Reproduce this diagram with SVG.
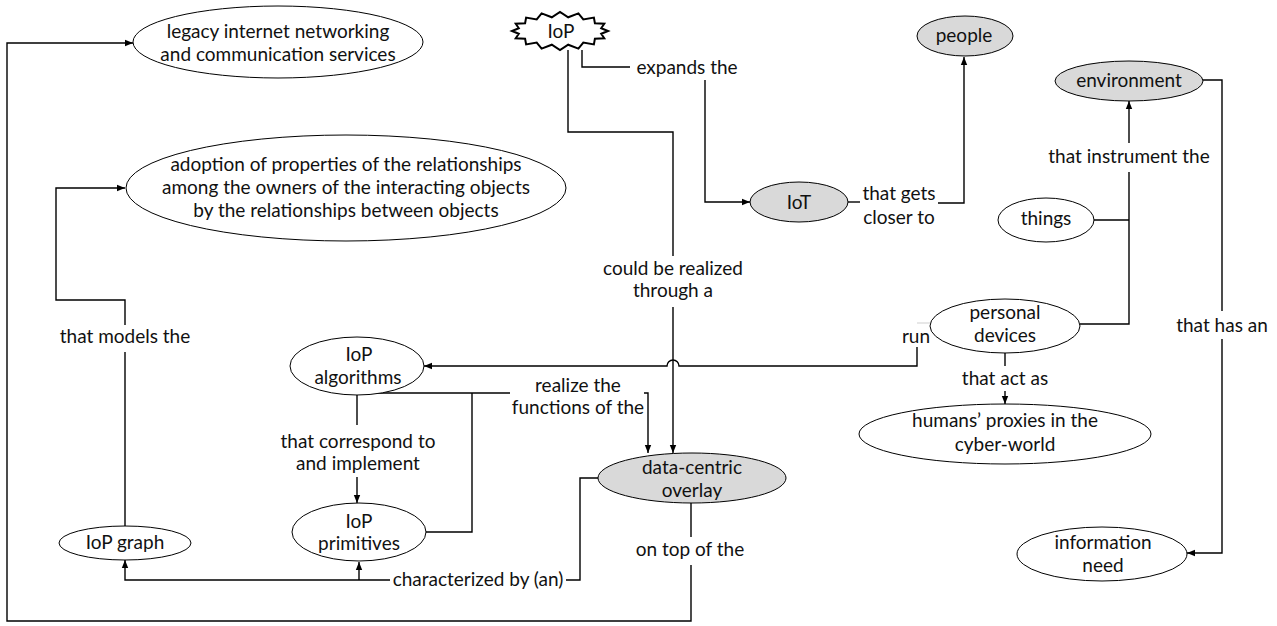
<svg xmlns="http://www.w3.org/2000/svg" width="1277" height="626" viewBox="0 0 1277 626">
<defs>
<marker id="arr" viewBox="0 0 10 10" refX="10" refY="5" markerWidth="8" markerHeight="8" markerUnits="userSpaceOnUse" orient="auto"><path d="M0,1 L10,5 L0,9 z" fill="#000"/></marker>
</defs>
<style>
text{font-family:Lato,"Liberation Sans",sans-serif;font-size:19px;fill:#111;text-anchor:middle}
.n{fill:#fff;stroke:#000;stroke-width:1}
.g{fill:#d9d9d9;stroke:#000;stroke-width:1}
.c{fill:none;stroke:#000;stroke-width:1.4}
.a{marker-end:url(#arr)}
.faint{fill:none;stroke:#cfcfcf;stroke-width:1}
</style>
<rect width="1277" height="626" fill="#fff"/>
<g id="connectors">
<path class="c" d="M582,50 V67 H630"/>
<path class="c a" d="M705,80 V202 H750"/>
<text x="687" y="74">expands the</text>
<path class="c" d="M568,50 V132 H673 V256"/>
<path class="c a" d="M673,307 V453"/>
<text x="673" y="275">could be realized</text>
<text x="673" y="297">through a</text>
<path class="c" d="M848,202 H860"/>
<path class="c a" d="M938,203 H964 V57"/>
<text x="899" y="200">that gets</text>
<text x="899" y="224">closer to</text>
<path class="c" d="M1093,220 H1129"/>
<path class="c" d="M1080,324 H1129 V172"/>
<path class="c a" d="M1129,143 V101"/>
<text x="1129" y="163">that instrument the</text>
<path class="c" d="M1203,80 H1222 V311"/>
<path class="c a" d="M1222,339 V553 H1187"/>
<text x="1222" y="332">that has an</text>
<path class="faint" d="M917,323 H930"/>
<path class="c a" d="M917,347 V366 H679 A6,6 0 0 0 667,366 H424"/>
<text x="916" y="343">run</text>
<path class="c" d="M1005,353 V366"/>
<path class="c a" d="M1005,391 V404"/>
<text x="1005" y="385">that act as</text>
<path class="c" d="M357,395 V425"/>
<path class="c a" d="M357,477 V503"/>
<text x="358" y="448">that correspond to</text>
<text x="358" y="470">and implement</text>
<path class="c" d="M378,393 H510"/>
<path class="c" d="M426,532 H472 V393"/>
<path class="c a" d="M644,393 H648 V453"/>
<text x="578" y="392">realize the</text>
<text x="578" y="414">functions of the</text>
<path class="c" d="M598,478 H580 V580 H566"/>
<path class="c a" d="M390,580 H125 V560"/>
<path class="c a" d="M359,580 V562"/>
<text x="478" y="586">characterized by (an)</text>
<path class="c" d="M691,503 V537"/>
<path class="c a" d="M691,565 V621 H7 V43 H133"/>
<text x="690" y="556">on top of the</text>
<path class="c" d="M125,527 V352"/>
<path class="c a" d="M125,325 V300 H56 V188 H125"/>
<text x="125" y="343">that models the</text>
</g>
<g id="legacy">
<ellipse class="n" cx="278" cy="42" rx="145" ry="36"/>
<text x="278" y="38">legacy internet networking</text>
<text x="278" y="61">and communication services</text>
</g>
<g id="adoption">
<ellipse class="n" cx="346" cy="188" rx="220" ry="53"/>
<text x="346" y="171">adoption of properties of the relationships</text>
<text x="346" y="194">among the owners of the interacting objects</text>
<text x="346" y="217">by the relationships between objects</text>
</g>
<g id="iop">
<polygon fill="#fff" stroke="#000" stroke-width="2" stroke-linejoin="miter" points="608,31 601.2,33.7 604.3,38.3 594.9,38.8 593.9,44.4 583.3,42.6 578.4,48.6 568.2,44.7 560,50 551.8,44.7 541.6,48.6 536.7,42.6 526.1,44.4 525.1,38.8 515.7,38.3 518.8,33.7 512,31 518.8,28.3 515.7,23.7 525.1,23.2 526.1,17.6 536.7,19.4 541.6,13.4 551.8,17.3 560,12 568.2,17.3 578.4,13.4 583.3,19.4 593.9,17.6 594.9,23.2 604.3,23.7 601.2,28.3"/>
<text x="561" y="38">IoP</text>
</g>
<g id="people">
<ellipse class="g" cx="965" cy="36" rx="48" ry="20"/>
<text x="964" y="42">people</text>
</g>
<g id="iot">
<ellipse class="g" cx="799" cy="202" rx="49" ry="20"/>
<text x="799" y="209">IoT</text>
</g>
<g id="environment">
<ellipse class="g" cx="1129" cy="81" rx="74" ry="20"/>
<text x="1129" y="87">environment</text>
</g>
<g id="things">
<ellipse class="n" cx="1046" cy="220" rx="48" ry="22"/>
<text x="1046" y="225">things</text>
</g>
<g id="personal-devices">
<ellipse class="n" cx="1005" cy="326" rx="75" ry="27"/>
<text x="1005" y="319">personal</text>
<text x="1005" y="342">devices</text>
</g>
<g id="humans-proxies">
<ellipse class="n" cx="1005" cy="434" rx="146" ry="30"/>
<text x="1005" y="427">humans’ proxies in the</text>
<text x="1005" y="451">cyber-world</text>
</g>
<g id="information-need">
<ellipse class="n" cx="1102" cy="554" rx="85" ry="27"/>
<text x="1103" y="549">information</text>
<text x="1103" y="572">need</text>
</g>
<g id="iop-algorithms">
<ellipse class="n" cx="357" cy="366" rx="67" ry="29"/>
<text x="359" y="361">IoP</text>
<text x="358" y="384">algorithms</text>
</g>
<g id="iop-primitives">
<ellipse class="n" cx="359" cy="532" rx="67" ry="29"/>
<text x="359" y="528">IoP</text>
<text x="359" y="550">primitives</text>
</g>
<g id="iop-graph">
<ellipse class="n" cx="125" cy="543" rx="66" ry="17"/>
<text x="125" y="549">IoP graph</text>
</g>
<g id="data-centric-overlay">
<ellipse class="g" cx="692" cy="478" rx="94" ry="25"/>
<text x="692" y="474">data-centric</text>
<text x="692" y="497">overlay</text>
</g>
</svg>
